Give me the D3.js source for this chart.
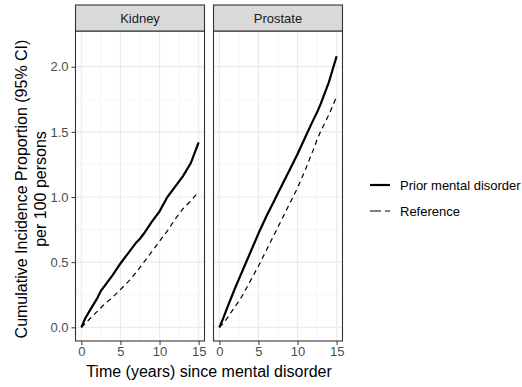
<!DOCTYPE html>
<html><head><meta charset="utf-8">
<script src="https://cdn.jsdelivr.net/npm/d3@7"></script>
<style>body{margin:0;background:#fff}svg{display:block}text{font-family:"Liberation Sans",Arial,sans-serif}</style>
</head><body>
<script>
const panels = ["Kidney", "Prostate"];
const seriesNames = ["Prior mental disorder", "Reference"];
const xTicks = [0, 5, 10, 15];
const yTicks = [0.0, 0.5, 1.0, 1.5, 2.0];
const time = [0, 0.5, 1, 2, 2.5, 3, 4, 5, 6, 7, 7.5, 8, 9, 10, 11, 12, 12.5, 13, 14, 15];
const kidneyPrior = [0, 0.07, 0.12, 0.22, 0.28, 0.32, 0.40, 0.49, 0.57, 0.65, 0.68, 0.72, 0.81, 0.89, 1.00, 1.08, 1.12, 1.16, 1.26, 1.42];
const kidneyRef = [0, 0.03, 0.06, 0.12, 0.15, 0.18, 0.23, 0.29, 0.35, 0.42, 0.46, 0.50, 0.58, 0.66, 0.74, 0.83, 0.87, 0.91, 0.97, 1.04];
const prostatePrior = [0, 0.07, 0.15, 0.30, 0.37, 0.44, 0.58, 0.72, 0.85, 0.97, 1.03, 1.09, 1.21, 1.33, 1.46, 1.59, 1.65, 1.72, 1.88, 2.08];
const prostateRef = [0, 0.03, 0.07, 0.16, 0.20, 0.25, 0.36, 0.47, 0.59, 0.71, 0.77, 0.83, 0.95, 1.07, 1.21, 1.36, 1.44, 1.51, 1.63, 1.77];

const data = {
  Kidney: [kidneyPrior, kidneyRef],
  Prostate: [prostatePrior, prostateRef]
};

const W = 522, H = 387;
const svg = d3.select("body").append("svg").attr("width", W).attr("height", H);

const panelTop = 31, panelBottom = 341, stripTop = 5;
const panelX = [[75.5, 204.5], [213.5, 342.5]];
const y = d3.scaleLinear().domain([-0.105, 2.274]).range([panelBottom, panelTop]);
const yMinor = [0.25, 0.75, 1.25, 1.75];
const xMinor = [2.5, 7.5, 12.5];
const dashes = [null, "5,4"];
const widths = [2.2, 1.2];
const FONT = "Liberation Sans, Arial, sans-serif";

panels.forEach((p, i) => {
  const [x0, x1] = panelX[i];
  const x = d3.scaleLinear().domain([-0.75, 15.75]).range([x0, x1]);
  const g = svg.append("g");
  g.selectAll(".ymin").data(yMinor).enter().append("line")
    .attr("x1", x0).attr("x2", x1).attr("y1", d => y(d)).attr("y2", d => y(d))
    .attr("stroke", "#F2F2F2").attr("stroke-width", 0.7);
  g.selectAll(".xmin").data(xMinor).enter().append("line")
    .attr("y1", panelTop).attr("y2", panelBottom).attr("x1", d => x(d)).attr("x2", d => x(d))
    .attr("stroke", "#F2F2F2").attr("stroke-width", 0.7);
  g.selectAll(".ymaj").data(yTicks).enter().append("line")
    .attr("x1", x0).attr("x2", x1).attr("y1", d => y(d)).attr("y2", d => y(d))
    .attr("stroke", "#EBEBEB").attr("stroke-width", 1.2);
  g.selectAll(".xmaj").data(xTicks).enter().append("line")
    .attr("y1", panelTop).attr("y2", panelBottom).attr("x1", d => x(d)).attr("x2", d => x(d))
    .attr("stroke", "#EBEBEB").attr("stroke-width", 1.2);

  data[p].forEach((vals, k) => {
    const line = d3.line().x((d, j) => x(time[j])).y(d => y(d));
    g.append("path").datum(vals).attr("d", line)
      .attr("fill", "none").attr("stroke", "#000")
      .attr("stroke-width", widths[k])
      .attr("stroke-dasharray", dashes[k]);
  });

  g.append("rect").attr("x", x0).attr("y", panelTop).attr("width", x1 - x0).attr("height", panelBottom - panelTop)
    .attr("fill", "none").attr("stroke", "#333").attr("stroke-width", 1.1);
  g.append("rect").attr("x", x0).attr("y", stripTop).attr("width", x1 - x0).attr("height", panelTop - stripTop)
    .attr("fill", "#D9D9D9").attr("stroke", "#333").attr("stroke-width", 1.1);
  g.append("text").attr("x", (x0 + x1) / 2).attr("y", (stripTop + panelTop) / 2 + 4.5)
    .attr("text-anchor", "middle").attr("font-size", 13).attr("fill", "#1A1A1A").text(p);

  const xa = svg.append("g").attr("transform", `translate(0,${panelBottom})`)
    .call(d3.axisBottom(x).tickValues(xTicks).tickSize(4).tickPadding(2).tickFormat(d3.format("d")));
  xa.select(".domain").remove();
  xa.selectAll("line").attr("stroke", "#333");
  xa.selectAll("text").attr("font-size", 13).attr("fill", "#4D4D4D").style("font-family", FONT);

  if (i === 0) {
    const ya = svg.append("g").attr("transform", `translate(${x0},0)`)
      .call(d3.axisLeft(y).tickValues(yTicks).tickSize(4).tickPadding(3).tickFormat(d3.format(".1f")));
    ya.select(".domain").remove();
    ya.selectAll("line").attr("stroke", "#333");
    ya.selectAll("text").attr("font-size", 13).attr("fill", "#4D4D4D").style("font-family", FONT);
  }
});

const cy = 189;
const yt = svg.append("text").attr("transform", `translate(27,${cy}) rotate(-90)`)
  .attr("text-anchor", "middle").attr("font-size", 16).attr("fill", "#000");
yt.append("tspan").attr("x", 0).attr("dy", 0).text("Cumulative Incidence Proportion (95% CI)");
yt.append("tspan").attr("x", 0).attr("dy", 19).text("per 100 persons");

svg.append("text").attr("x", (panelX[0][0] + panelX[1][1]) / 2).attr("y", 377)
  .attr("text-anchor", "middle").attr("font-size", 16).attr("fill", "#000")
  .text("Time (years) since mental disorder");

const lg = svg.append("g");
seriesNames.forEach((s, k) => {
  const ly = 185 + k * 26;
  lg.append("line").attr("x1", 370).attr("x2", 390).attr("y1", ly).attr("y2", ly)
    .attr("stroke", "#000").attr("stroke-width", widths[k]).attr("stroke-dasharray", dashes[k] ? "11,4" : null);
  lg.append("text").attr("x", 400).attr("y", ly + 4.5).attr("font-size", 13).attr("fill", "#000").text(s);
});
</script>
</body></html>
